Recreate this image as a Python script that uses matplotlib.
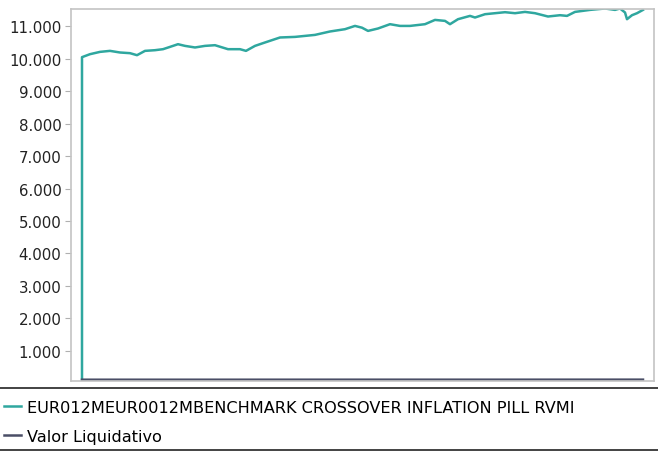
import matplotlib
matplotlib.use("Agg")
import matplotlib.pyplot as plt
from matplotlib.lines import Line2D
from matplotlib.ticker import FuncFormatter

# Data (x = day index from the start of the series)
bench_days = [0, 0, 8, 18, 28, 38, 48, 55, 63, 73, 81, 88, 96, 103, 113, 123, 133,
              146, 158, 164, 173, 183, 198, 213, 223, 233, 248, 263, 273, 280, 286,
              296, 308, 318, 328, 343, 353, 363, 368, 376, 388, 393, 403, 413, 423,
              433, 443, 453, 466, 478, 485, 493, 508, 523, 533, 538, 543, 545, 550,
              555, 561]
bench_vals = [110, 10054, 10146, 10217, 10248, 10198, 10177, 10115, 10248, 10269,
              10300, 10371, 10454, 10402, 10353, 10402, 10423, 10300, 10300, 10248,
              10402, 10507, 10661, 10679, 10710, 10741, 10846, 10917, 11018, 10963,
              10864, 10938, 11071, 11018, 11018, 11071, 11203, 11173, 11071, 11225,
              11327, 11277, 11379, 11410, 11441, 11410, 11450, 11410, 11308, 11348,
              11327, 11450, 11512, 11555, 11512, 11555, 11432, 11225, 11348, 11410,
              11512]
nav_days = [0, 140, 280, 420, 561]
nav_vals = [105, 105, 106, 106, 107]

label_bench = "EUR012MEUR0012MBENCHMARK CROSSOVER INFLATION PILL RVMI"
label_nav = "Valor Liquidativo"
yticks = [1000, 2000, 3000, 4000, 5000, 6000, 7000, 8000, 9000, 10000, 11000]

fig = plt.figure(figsize=(6.58, 4.52), dpi=100)
ax = fig.add_axes([71/658, 1-382/452, (654-71)/658, (382-9.5)/452])

l1, = ax.plot(bench_days, bench_vals, color="#2fa79f", lw=1.8, label=label_bench)
l2, = ax.plot(nav_days, nav_vals, color="#4a4e66", lw=1.8, label=label_nav)

ax.set_xlim(-11, 572)
ax.set_ylim(65, 11555)
ax.set_yticks(yticks)
ax.yaxis.set_major_formatter(FuncFormatter(lambda v, p: f"{int(v):,}".replace(",", ".")))
ax.set_xticks([])
ax.tick_params(axis="y", length=4, color="#b0b0b0", labelsize=10.8, labelcolor="#222222", pad=3)
for s in ax.spines.values():
    s.set_color("#c4c4c4")
    s.set_linewidth(1.2)

fig.add_artist(Line2D([0, 1], [1-389/452, 1-389/452], color="#222222", lw=1.2, transform=fig.transFigure))
fig.add_artist(Line2D([0, 1], [1-450.5/452, 1-450.5/452], color="#222222", lw=1.2, transform=fig.transFigure))

fig.legend(handles=[l1, l2], loc="upper left", bbox_to_anchor=(0, 1-397/452),
           frameon=False, fontsize=11.6, handlelength=1.05, handletextpad=0.35,
           borderaxespad=0, borderpad=0.25, labelspacing=0.86)

fig.savefig("out.png", dpi=100)
